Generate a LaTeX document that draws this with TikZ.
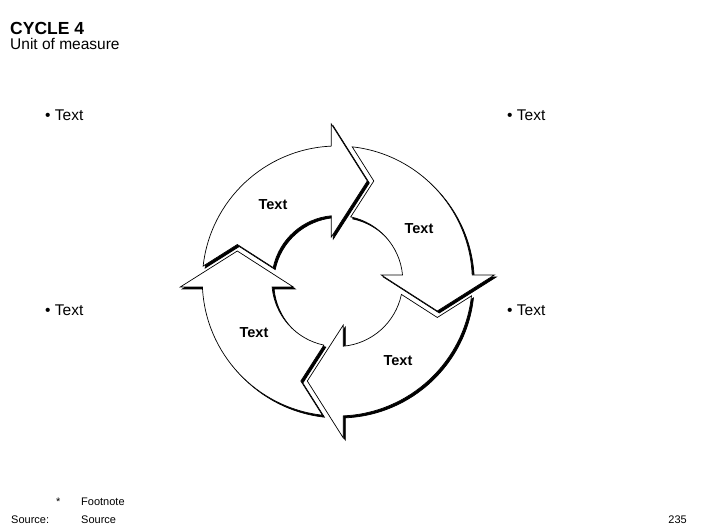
\documentclass[tikz,border=0pt]{standalone}
\usepackage{fontspec}
\setmainfont{Liberation Sans}
\usetikzlibrary{positioning}
\tikzset{
  band/.style={fill=#1,draw=black,line width=0.7pt,line join=miter},
  band/.default=white,
  % one quarter of the cycle, head pointing down on the right side
  pics/cyclearrow/.style={code={
    \filldraw[band=#1] (83.66:135) arc[start angle=83.66,end angle=2.55,radius=135]
      -- (157,6) -- (100,-30) -- (44,6) -- (65.22,6)
      arc[start angle=5.26,end angle=78.17,radius=65.5] -- (36.5,100) -- cycle;
  }},
  pics/cyclearrow/.default=white,
  bandtext/.style={font=\fontsize{14.5}{17}\selectfont\bfseries,inner sep=0pt},
  pointtext/.style={font=\fontsize{15.5}{18}\selectfont,inner sep=0pt,anchor=base west},
  smalltext/.style={font=\fontsize{11}{13}\selectfont,inner sep=0pt},
}

\begin{document}
\begin{tikzpicture}[x=1pt,y=1pt]
    \useasboundingbox (0,0) rectangle (706,529);
    \node[font=\fontsize{17.5}{20}\selectfont\bfseries,inner sep=0pt,anchor=base west] (title) at (10,494.5) {CYCLE 4};
    \node[font=\fontsize{15.5}{18}\selectfont,inner sep=0pt,anchor=base west] (unit) at (10,479) {Unit of measure};
    \coordinate (hub) at (337.3,248);
    % shadows first, then the white bands
    \foreach \r in {0,90,180,270}
      \pic[rotate=\r] at ([shift={(2,-2)}]hub) {cyclearrow=black};
    \foreach \r in {0,90,180,270}
      \pic[rotate=\r] at (hub) {cyclearrow};
    \node[bandtext] (txtA) at (273,324) {Text};
    \node[bandtext] (txtB) at (419,300) {Text};
    \node[bandtext] (txtC) at (398,168) {Text};
    \node[bandtext] (txtD) at (254,196) {Text};
    \foreach \x/\y [count=\i] in {45/408,507/408,45/213,507/213}
      \node[pointtext] (pt\i) at (\x,\y) {\textbullet\ Text};
    \node[smalltext,anchor=base west] (star) at (56,23) {*};
    \node[smalltext,anchor=base west] (fn) at (81,23) {Footnote};
    \node[smalltext,anchor=base west] (src) at (11,5) {Source:};
    \node[smalltext,anchor=base west] (srcname) at (81,5) {Source};
    \node[smalltext,anchor=base east] (page) at (687,5) {235};
  \end{tikzpicture}
\end{document}
